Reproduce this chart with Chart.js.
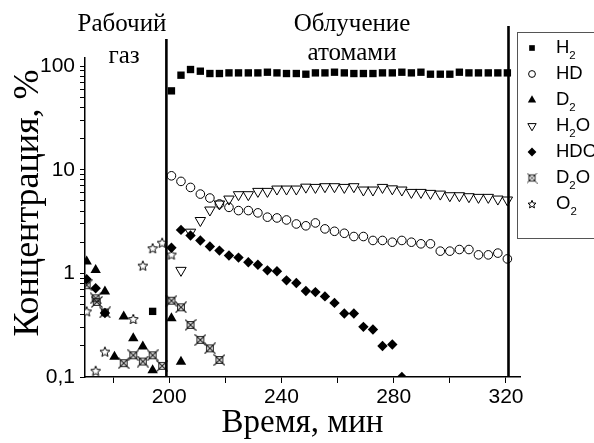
<!DOCTYPE html>
<html><head><meta charset="utf-8">
<script src="https://cdn.jsdelivr.net/npm/chart.js@4.4.1/dist/chart.umd.min.js"></script>
<style>html,body{margin:0;padding:0;background:#fff;}#wrap{width:594px;height:443px;position:relative;}</style>
</head><body><div id="wrap"><canvas id="c"></canvas></div>
<script>
// ---- data ----
const gridTimes = [200.8, 204.2, 207.6, 211.1, 214.5, 217.9, 221.3, 224.7, 228.2, 231.6, 235.0, 238.4, 241.8, 245.3, 248.7, 252.1, 255.5, 258.9, 262.4, 265.8, 269.2, 272.6, 276.0, 279.5, 282.9, 286.3, 289.7, 293.1, 296.6, 300.0, 303.4, 306.8, 310.2, 313.7, 317.1, 320.5];

const h2Time = [194.1].concat(gridTimes);
const h2Value = [0.43, 57.8, 81.9, 92.9, 89.5, 85, 85, 86.2, 86.2, 86.2, 86.2, 87.5, 86.2, 85, 85, 83.7, 86.2, 86.2, 87.5, 86.2, 85, 85, 85, 86.2, 86.2, 87.5, 86.2, 87.5, 83.7, 83.7, 83.7, 87.5, 86.2, 86.2, 86.2, 86.2, 86.2];

const hdTime = gridTimes;
const hdValue = [8.75, 7.73, 6.76, 5.83, 5.34, 4.68, 4.34, 4.04, 4.04, 3.84, 3.49, 3.43, 3.28, 3.0, 2.88, 3.07, 2.69, 2.55, 2.44, 2.27, 2.27, 2.08, 2.08, 2.0, 2.08, 2.0, 1.93, 1.93, 1.64, 1.64, 1.70, 1.70, 1.51, 1.51, 1.57, 1.38];

const d2Time = [170.6, 173.8, 177.1, 180.5, 183.8, 187.2, 190.6, 194.1, 200.8, 204.2];
const d2Value = [1.3, 1.08, 0.67, 0.157, 0.383, 0.236, 0.197, 0.116, 0.37, 0.14];

const h2oTime = gridTimes.slice(1);
const h2oValue = [1.07, 2.5, 3.24, 4.09, 4.68, 5.22, 5.75, 5.75, 6.19, 6.19, 6.52, 6.52, 6.52, 6.8, 6.76, 6.87, 6.87, 6.76, 6.87, 6.38, 6.38, 6.76, 6.55, 6.38, 6.05, 6.05, 5.92, 5.83, 5.62, 5.62, 5.5, 5.42, 5.42, 5.22, 5.11];

const hdoTime = [170.6, 173.8, 177.1].concat(gridTimes.slice(0, 25));
const hdoValue = [0.88, 0.72, 0.415, 1.77, 2.63, 2.32, 2.08, 1.82, 1.66, 1.49, 1.42, 1.28, 1.21, 1.07, 1.05, 0.857, 0.808, 0.676, 0.66, 0.60, 0.519, 0.41, 0.41, 0.305, 0.287, 0.199, 0.206, 0.10];

const d2oTime = [170.6, 173.8, 174.2, 177.1, 183.8, 187.2, 190.6, 194.1, 197.5, 200.8, 204.2, 207.6, 211.1, 214.5, 217.9];
const d2oValue = [0.77, 0.575, 0.53, 0.42, 0.136, 0.162, 0.141, 0.162, 0.128, 0.545, 0.471, 0.318, 0.228, 0.189, 0.146];

const o2Time = [170.6, 173.8, 177.1, 187.2, 190.6, 194.1, 197.5, 200.8];
const o2Value = [0.43, 0.115, 0.176, 0.363, 1.19, 1.75, 1.98, 1.52];

const seriesNames = ['H_2', 'HD', 'D_2', 'H_2O', 'HDO', 'D_2O', 'O_2'];

const xTickValues = [180, 200, 220, 240, 260, 280, 300, 320];
const xLabelValues = [200, 240, 280, 320];
const yTickValues = [0.1,0.2,0.3,0.4,0.5,0.6,0.7,0.8,0.9,1,2,3,4,5,6,7,8,9,10,20,30,40,50,60,70,80,90,100];
const yLabels = {0.1: '0,1', 1: '1', 10: '10', 100: '100'};
const dividerTimes = [199.0, 320.9];
const xTitle = 'Время, мин';
const yTitle = 'Концентрация, %';
const notes = [['Рабочий', 'газ'], ['Облучение', 'атомами']];

// ---- marker images ----
function starImg(size, lw) {
  const c = document.createElement('canvas'); c.width = c.height = size;
  const g = c.getContext('2d'); const cx = size/2, cy = size/2 + 0.5, R = size/2 - 0.8, r = R*0.45;
  g.beginPath();
  for (let i = 0; i < 10; i++) { const a = -Math.PI/2 + i*Math.PI/5; const rr = i%2 ? r : R; g.lineTo(cx + rr*Math.cos(a), cy + rr*Math.sin(a)); }
  g.closePath(); g.fillStyle = '#fff'; g.fill(); g.strokeStyle = '#000'; g.lineWidth = lw; g.stroke();
  return c;
}
function xboxImg(size, lw) {
  const c = document.createElement('canvas'); c.width = c.height = size;
  const g = c.getContext('2d'); const m = size*0.22;
  g.strokeStyle = '#222'; g.lineWidth = lw;
  g.strokeRect(m, m, size - 2*m, size - 2*m);
  g.beginPath(); g.moveTo(0.5, 0.5); g.lineTo(size-0.5, size-0.5); g.moveTo(size-0.5, 0.5); g.lineTo(0.5, size-0.5); g.stroke();
  return c;
}
const starBig = starImg(12, 1), starSmall = starImg(10, 1);
const xboxBig = xboxImg(12, 1.1), xboxSmall = xboxImg(11, 1);

function pts(t, v) { return t.map((tt, i) => ({x: tt, y: v[i]})); }

const styles = [
  {pointStyle: 'rect', radius: 5.2, bg: '#000', bw: 0, rot: 0, lr: 4},
  {pointStyle: 'circle', radius: 4.3, bg: 'rgba(0,0,0,0)', bw: 1, rot: 0, lr: 3.4},
  {pointStyle: 'triangle', radius: 6, bg: '#000', bw: 0, rot: 0, lr: 4.8},
  {pointStyle: 'triangle', radius: 6, bg: 'rgba(0,0,0,0)', bw: 1, rot: 180, lr: 4.8},
  {pointStyle: 'rectRot', radius: 5.2, bg: '#000', bw: 0, rot: 0, lr: 4.4},
  {pointStyle: xboxBig, radius: 6, bg: '#000', bw: 1, rot: 0, lr: 5, small: xboxSmall},
  {pointStyle: starBig, radius: 6, bg: '#fff', bw: 1, rot: 0, lr: 5, small: starSmall}
];
const seriesData = [pts(h2Time, h2Value), pts(hdTime, hdValue), pts(d2Time, d2Value), pts(h2oTime, h2oValue), pts(hdoTime, hdoValue), pts(d2oTime, d2oValue), pts(o2Time, o2Value)];

const datasets = seriesData.map((d, i) => ({
  label: seriesNames[i].replace(/_/g, ''),
  data: d,
  showLine: false,
  clip: 0,
  pointStyle: styles[i].pointStyle,
  pointRadius: styles[i].radius,
  pointHoverRadius: styles[i].radius,
  pointRotation: styles[i].rot,
  pointBackgroundColor: styles[i].bg,
  pointBorderColor: '#000',
  pointBorderWidth: styles[i].bw,
  order: i
}));

const SERIF = '"Liberation Serif", "DejaVu Serif", serif';
const SANS = '"Liberation Sans", Arial, sans-serif';

function drawSubText(ctx, str, x, y, size) {
  let cx = x;
  for (let i = 0; i < str.length; i++) {
    if (str[i] === '_') {
      i++; ctx.font = (size*0.62) + 'px ' + SANS; ctx.fillText(str[i], cx, y + size*0.4); cx += ctx.measureText(str[i]).width;
    } else {
      ctx.font = size + 'px ' + SANS; ctx.fillText(str[i], cx, y); cx += ctx.measureText(str[i]).width;
    }
  }
}

const decor = {
  id: 'decor',
  afterDatasetsDraw(chart) {
    const {ctx, chartArea} = chart; const xs = chart.scales.x;
    ctx.save();
    // divider lines
    ctx.strokeStyle = '#000'; ctx.lineWidth = 2.6;
    const tops = [39, 26];
    dividerTimes.forEach((t, i) => { const px = xs.getPixelForValue(t); ctx.beginPath(); ctx.moveTo(px, tops[i]); ctx.lineTo(px, chartArea.bottom); ctx.stroke(); });
    // notes
    ctx.fillStyle = '#000'; ctx.font = '25px ' + SERIF; ctx.textAlign = 'center'; ctx.textBaseline = 'alphabetic';
    ctx.fillText(notes[0][0], 122, 31); ctx.fillText(notes[0][1], 124, 63);
    ctx.fillText(notes[1][0], 352, 31); ctx.fillText(notes[1][1], 352, 60);
    // y title
    ctx.save(); ctx.translate(38, 203); ctx.rotate(-Math.PI/2); ctx.font = '36px ' + SERIF; ctx.fillText(yTitle, 0, 0); ctx.restore();
    // legend
    ctx.strokeStyle = '#555'; ctx.lineWidth = 1; ctx.strokeRect(517.5, 32.5, 100, 206);
    ctx.textAlign = 'left'; ctx.textBaseline = 'middle';
    seriesNames.forEach((name, i) => {
      const yy = 48 + 26*i; const st = styles[i];
      ctx.save();
      ctx.fillStyle = st.bg; ctx.strokeStyle = '#000'; ctx.lineWidth = st.bw;
      Chart.helpers.drawPoint(ctx, {pointStyle: st.small || st.pointStyle, radius: st.lr, rotation: st.rot, borderWidth: st.bw}, 532, yy);
      ctx.restore();
      ctx.fillStyle = '#000';
      drawSubText(ctx, name, 556, yy, 18.5);
    });
    ctx.restore();
  }
};

new Chart(document.getElementById('c'), {
  type: 'scatter',
  data: {datasets},
  options: {
    responsive: true, maintainAspectRatio: false, animation: false,
    layout: {padding: {top: 58, right: 74, left: 0, bottom: 0}},
    plugins: {legend: {display: false}, tooltip: {enabled: false}},
    scales: {
      x: {
        type: 'linear', min: 170, max: 325,
        afterBuildTicks: s => { s.ticks = xTickValues.map(v => ({value: v})); },
        afterFit: s => { s.height = 66; },
        ticks: {autoSkip: false, maxRotation: 0, padding: 2, color: '#000', font: {family: SANS, size: 21},
          callback: v => xLabelValues.includes(v) ? String(v) : ''},
        grid: {display: true, drawOnChartArea: false, drawTicks: true, tickLength: 6, tickColor: '#000', tickWidth: 1},
        border: {display: true, color: '#000', width: 1.5},
        title: {display: true, text: xTitle, color: '#000', font: {family: SERIF, size: 33}, padding: {top: 0, bottom: 0}}
      },
      y: {
        type: 'logarithmic', min: 0.1, max: 120,
        afterBuildTicks: s => { s.ticks = yTickValues.map(v => ({value: v})); },
        afterFit: s => { s.width = 85; },
        ticks: {autoSkip: false, padding: 5, color: '#000', font: {family: SANS, size: 21},
          callback: v => (yLabels[v] !== undefined ? yLabels[v] : '')},
        grid: {display: true, drawOnChartArea: false, drawTicks: true, tickLength: 5, tickColor: '#000', tickWidth: 1},
        border: {display: true, color: '#000', width: 1.5}
      }
    }
  },
  plugins: [decor]
});
</script></body></html>
